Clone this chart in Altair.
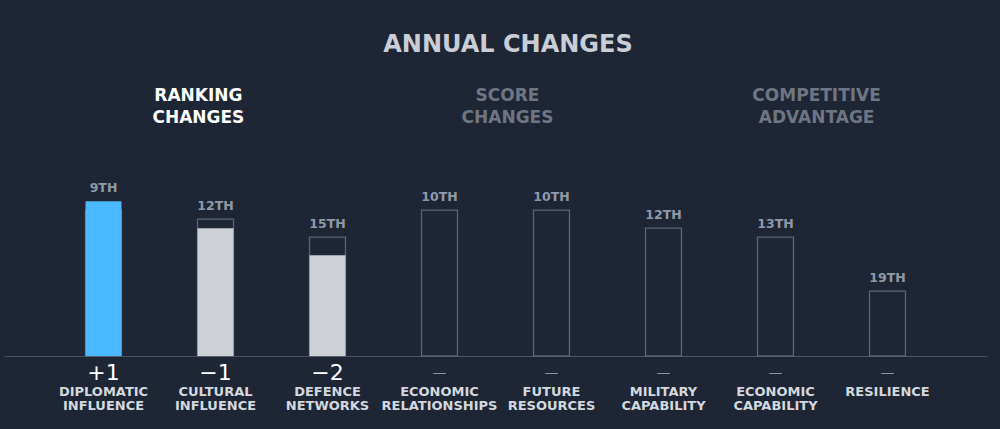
import altair as alt
import pandas as pd

categories = ["DIPLOMATIC INFLUENCE", "CULTURAL INFLUENCE", "DEFENCE NETWORKS",
              "ECONOMIC RELATIONSHIPS", "FUTURE RESOURCES", "MILITARY CAPABILITY",
              "ECONOMIC CAPABILITY", "RESILIENCE"]
rank_now = [9, 12, 15, 10, 10, 12, 13, 19]
rank_change = [1, -1, -2, 0, 0, 0, 0, 0]
rank_labels = ["9TH", "12TH", "15TH", "10TH", "10TH", "12TH", "13TH", "19TH"]
change_labels = ["+1", "\u22121", "\u22122", "\u2014", "\u2014", "\u2014", "\u2014", "\u2014"]
tabs = ["RANKING\nCHANGES", "SCORE\nCHANGES", "COMPETITIVE\nADVANTAGE"]
tab_active = [True, False, False]
main_title = ["ANNUAL CHANGES"]

BG = "#1e2535"
FONT = "DejaVu Sans"

df = pd.DataFrame({
    "cat": categories,
    "rank": rank_now,
    "change": rank_change,
    "rank_label": rank_labels,
    "change_label": change_labels,
})
df["prev"] = df["rank"] + df["change"]

tabs_df = pd.DataFrame({"tab": tabs, "active": tab_active})
title_df = pd.DataFrame({"t": main_title})

xscale = alt.Scale(type="band", domain=categories, paddingInner=0.679, paddingOuter=0.728)
yscale = alt.Scale(domain=[0, 20])
TOP = 26.2  # rank scale origin

base = alt.Chart(df).transform_calculate(
    h="%s - datum.rank" % TOP,
    hp="%s - datum.prev" % TOP,
    hmax="%s - min(datum.rank, datum.prev)" % TOP,
)

x_axis = alt.Axis(
    title=None, ticks=False, domainColor="#4b5363", domainWidth=1.2,
    labelAngle=0, labelColor="#d3d8de", labelFont=FONT, labelFontSize=13,
    labelFontWeight="bold", labelPadding=29, labelBaseline="top",
    labelLineHeight=14.5, labelExpr="split(datum.value, ' ')",
    grid=False,
)

X = lambda axis=None: alt.X("cat:N", scale=xscale, axis=axis, sort=categories)

outline = base.mark_bar(fillOpacity=0, stroke="#5d6574", strokeWidth=1.3).encode(
    x=X(x_axis),
    y=alt.Y("hp:Q", scale=yscale, axis=None),
)

fill = base.transform_filter("datum.change != 0").mark_bar().encode(
    x=X(),
    y=alt.Y("h:Q", scale=yscale, axis=None),
    color=alt.condition("datum.change > 0", alt.value("#4bb9ff"), alt.value("#cdd1d6")),
)

rank_text = base.mark_text(
    font=FONT, fontSize=12.5, fontWeight="bold", color="#8f9aa8",
    baseline="alphabetic", dy=-9.5,
).encode(
    x=X(),
    y=alt.Y("hmax:Q", scale=yscale, axis=None),
    text="rank_label:N",
)

change_text = base.transform_filter("datum.change != 0").mark_text(
    font=FONT, fontSize=22, color="#ffffff", baseline="middle", dy=17,
).encode(
    x=X(),
    y=alt.Y(datum=0, scale=yscale, axis=None),
    text="change_label:N",
)

dash_text = base.transform_filter("datum.change == 0").mark_text(
    font=FONT, fontSize=14, color="#8a95a3", baseline="middle", dy=17,
).encode(
    x=X(),
    y=alt.Y(datum=0, scale=yscale, axis=None),
    text="change_label:N",
)

tab_text = alt.Chart(tabs_df).mark_text(
    font=FONT, fontSize=17, fontWeight="bold", baseline="middle",
    lineBreak="\n", lineHeight=22, dx=12,
).encode(
    x=alt.X("tab:N", scale=alt.Scale(type="point", domain=tabs, padding=0.59), axis=None, sort=tabs),
    y=alt.value(-80),
    text="tab:N",
    color=alt.condition("datum.active", alt.value("#ffffff"), alt.value("#6e7684")),
)

title_text = alt.Chart(title_df).mark_text(
    font=FONT, fontSize=24, fontWeight="bold", color="#c9ced6", baseline="middle",
).encode(
    x=alt.value(504),
    y=alt.value(-131),
    text="t:N",
)

chart = alt.layer(outline, fill, rank_text, change_text, dash_text, tab_text, title_text).resolve_scale(
    x="independent"
).properties(
    width=983,
    height=180,
    autosize=alt.AutoSizeParams(type="none"),
    padding={"left": 4, "right": 13, "top": 176, "bottom": 73},
    background=BG,
).configure_view(stroke=None)

chart.save("out.html", embed_options={"renderer": "svg", "actions": False})
